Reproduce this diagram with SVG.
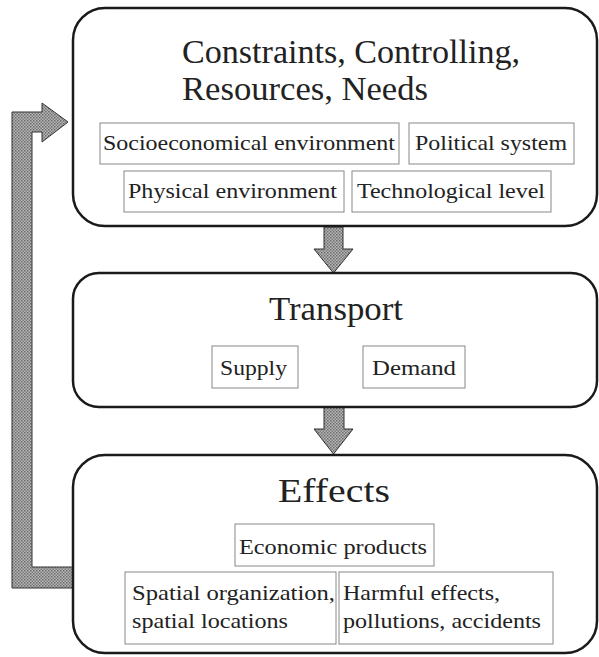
<svg xmlns="http://www.w3.org/2000/svg" width="599" height="657" viewBox="0 0 599 657">
<defs>
<pattern id="dots" width="3" height="3" patternUnits="userSpaceOnUse">
<rect width="3" height="3" fill="#b8b8b8"/>
<rect width="1.5" height="1.5" fill="#6a6a6a"/>
<rect x="1.5" y="1.5" width="1.5" height="1.5" fill="#7a7a7a"/>
</pattern>
<style>
.big{fill:#fff;stroke:#1a1a1a;stroke-width:2.5}
.sub{fill:#fff;stroke:#888;stroke-width:1}
.t{font-family:"Liberation Serif","Times New Roman",serif;fill:#222}
.title{font-size:33px}
.lbl{font-size:21px}
.arr{fill:url(#dots);stroke:#333;stroke-width:1}
</style>
</defs>
<g id="connectors">
<polygon class="arr" points="324,227 343,227 343,249 353,249 333.5,273 314,249 324,249"/>
<polygon class="arr" points="324,407 344,407 344,429 353,429 333.5,454 314,429 324,429"/>
<polygon class="arr" points="12,588 12,112 42,112 42,103 68,122 42,142 42,132 32,132 32,567 73,567 73,588"/>
</g>
<g id="node-constraints">
<rect class="big" x="73" y="8" width="524" height="218" rx="32"/>
<text class="t title" x="182" y="63" textLength="338" lengthAdjust="spacingAndGlyphs">Constraints, Controlling,</text>
<text class="t title" x="182" y="100" textLength="246" lengthAdjust="spacingAndGlyphs">Resources, Needs</text>
<g id="sub-socio"><rect class="sub" x="100" y="123" width="299" height="41"/>
<text class="t lbl" x="103" y="150" textLength="292" lengthAdjust="spacingAndGlyphs">Socioeconomical environment</text></g>
<g id="sub-political"><rect class="sub" x="409" y="123" width="165" height="41"/>
<text class="t lbl" x="415" y="150" textLength="152" lengthAdjust="spacingAndGlyphs">Political system</text></g>
<g id="sub-physical"><rect class="sub" x="124" y="171" width="220" height="41"/>
<text class="t lbl" x="128" y="198" textLength="209" lengthAdjust="spacingAndGlyphs">Physical environment</text></g>
<g id="sub-tech"><rect class="sub" x="352" y="171" width="199" height="41"/>
<text class="t lbl" x="357" y="198" textLength="188" lengthAdjust="spacingAndGlyphs">Technological level</text></g>
</g>
<g id="node-transport">
<rect class="big" x="73" y="273" width="524" height="134" rx="26"/>
<text class="t title" x="336" y="320" text-anchor="middle" textLength="134" lengthAdjust="spacingAndGlyphs">Transport</text>
<g id="sub-supply"><rect class="sub" x="212" y="346" width="86" height="42"/>
<text class="t lbl" x="220" y="375" textLength="67" lengthAdjust="spacingAndGlyphs">Supply</text></g>
<g id="sub-demand"><rect class="sub" x="363" y="346" width="102" height="42"/>
<text class="t lbl" x="372" y="375" textLength="84" lengthAdjust="spacingAndGlyphs">Demand</text></g>
</g>
<g id="node-effects">
<rect class="big" x="73" y="455" width="524" height="198" rx="32"/>
<text class="t title" x="334" y="502" text-anchor="middle" textLength="112" lengthAdjust="spacingAndGlyphs">Effects</text>
<g id="sub-economic"><rect class="sub" x="235" y="524" width="199" height="42"/>
<text class="t lbl" x="239" y="554" textLength="188" lengthAdjust="spacingAndGlyphs">Economic products</text></g>
<g id="sub-spatial"><rect class="sub" x="125" y="572" width="211" height="72"/>
<text class="t lbl" x="132" y="600" textLength="203" lengthAdjust="spacingAndGlyphs">Spatial organization,</text>
<text class="t lbl" x="132" y="628" textLength="156" lengthAdjust="spacingAndGlyphs">spatial locations</text></g>
<g id="sub-harmful"><rect class="sub" x="339" y="572" width="214" height="72"/>
<text class="t lbl" x="343" y="600" textLength="157" lengthAdjust="spacingAndGlyphs">Harmful effects,</text>
<text class="t lbl" x="343" y="628" textLength="198" lengthAdjust="spacingAndGlyphs">pollutions, accidents</text></g>
</g>
</svg>
